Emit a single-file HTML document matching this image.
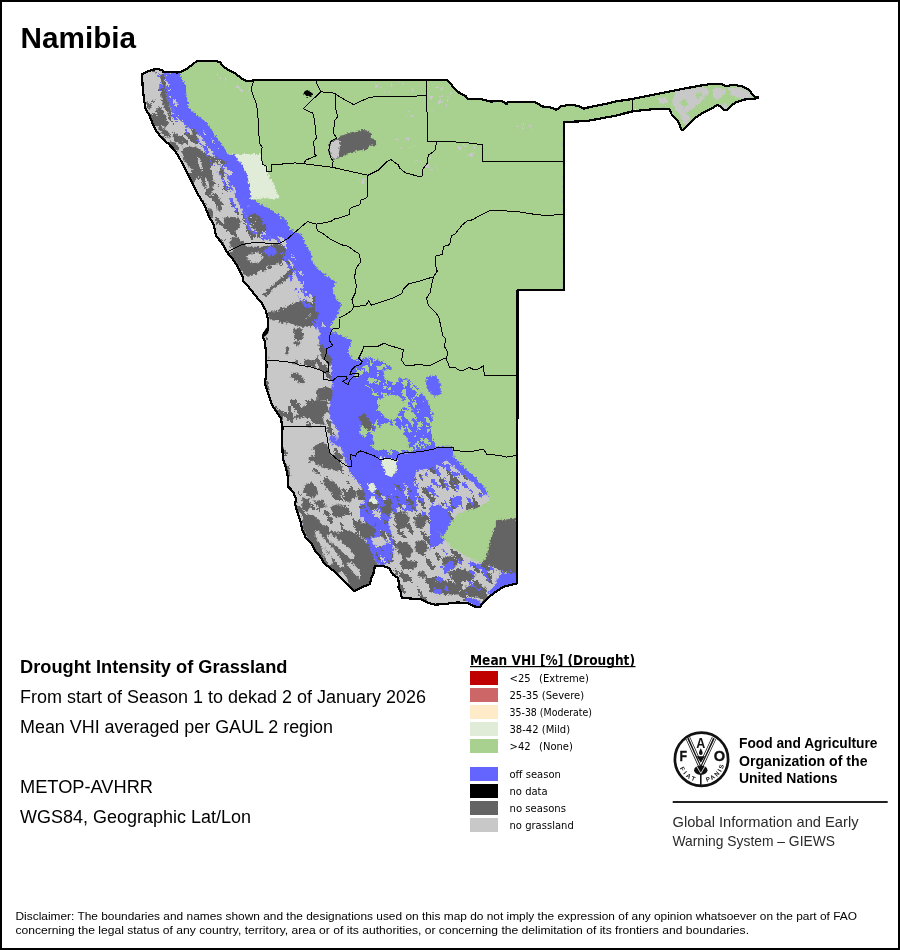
<!DOCTYPE html>
<html><head><meta charset="utf-8"><title>Namibia</title>
<style>
html,body{margin:0;padding:0;background:#fff}
svg{display:block}
.t{font-family:"Liberation Sans",Arial,sans-serif;fill:#000}
.lg{font-family:"DejaVu Sans",sans-serif;font-size:10px;fill:#000}
</style></head><body>
<svg width="900" height="950" viewBox="0 0 900 950">
<rect x="1" y="1" width="898" height="948" fill="#fff" stroke="#000" stroke-width="2"/>
<text class="t" x="20.6" y="47.6" font-size="29.7" font-weight="bold">Namibia</text>
<!-- MAP -->
<!--MAPSTART--><g id="map">
<defs><filter id="speck1" x="0" y="0" width="1" height="1" color-interpolation-filters="sRGB"><feTurbulence type="fractalNoise" baseFrequency="0.16 0.06" numOctaves="3" seed="11"/><feColorMatrix type="matrix" values="0 0 0 0 0.392 0 0 0 0 0.392 0 0 0 0 0.392 -1 0 0 0 0.9"/><feComponentTransfer><feFuncA type="discrete" tableValues="0 1"/></feComponentTransfer></filter><filter id="speckB" x="0" y="0" width="1" height="1" color-interpolation-filters="sRGB"><feTurbulence type="fractalNoise" baseFrequency="0.2 0.08" numOctaves="3" seed="5"/><feColorMatrix type="matrix" values="0 0 0 0 0.392 0 0 0 0 0.392 0 0 0 0 1.000 -1 0 0 0 0.93"/><feComponentTransfer><feFuncA type="discrete" tableValues="0 1"/></feComponentTransfer></filter><filter id="speckB2" x="0" y="0" width="1" height="1" color-interpolation-filters="sRGB"><feTurbulence type="fractalNoise" baseFrequency="0.2 0.08" numOctaves="3" seed="8"/><feColorMatrix type="matrix" values="0 0 0 0 0.392 0 0 0 0 0.392 0 0 0 0 1.000 -1 0 0 0 0.88"/><feComponentTransfer><feFuncA type="discrete" tableValues="0 1"/></feComponentTransfer></filter><filter id="speckD2" x="0" y="0" width="1" height="1" color-interpolation-filters="sRGB"><feTurbulence type="fractalNoise" baseFrequency="0.18 0.07" numOctaves="3" seed="3"/><feColorMatrix type="matrix" values="0 0 0 0 0.392 0 0 0 0 0.392 0 0 0 0 0.392 -1 0 0 0 0.9"/><feComponentTransfer><feFuncA type="discrete" tableValues="0 1"/></feComponentTransfer></filter><filter id="speckL" x="0" y="0" width="1" height="1" color-interpolation-filters="sRGB"><feTurbulence type="fractalNoise" baseFrequency="0.2 0.08" numOctaves="3" seed="21"/><feColorMatrix type="matrix" values="0 0 0 0 0.784 0 0 0 0 0.784 0 0 0 0 0.784 -1 0 0 0 0.88"/><feComponentTransfer><feFuncA type="discrete" tableValues="0 1"/></feComponentTransfer></filter><filter id="speckL2" x="0" y="0" width="1" height="1" color-interpolation-filters="sRGB"><feTurbulence type="fractalNoise" baseFrequency="0.3 0.2" numOctaves="3" seed="51"/><feColorMatrix type="matrix" values="0 0 0 0 0.784 0 0 0 0 0.784 0 0 0 0 0.784 -1 0 0 0 0.86"/><feComponentTransfer><feFuncA type="discrete" tableValues="0 1"/></feComponentTransfer></filter><filter id="speckG" x="0" y="0" width="1" height="1" color-interpolation-filters="sRGB"><feTurbulence type="fractalNoise" baseFrequency="0.25 0.14" numOctaves="3" seed="44"/><feColorMatrix type="matrix" values="0 0 0 0 0.659 0 0 0 0 0.816 0 0 0 0 0.557 -1 0 0 0 0.93"/><feComponentTransfer><feFuncA type="discrete" tableValues="0 1"/></feComponentTransfer></filter><filter id="speckD3" x="0" y="0" width="1" height="1" color-interpolation-filters="sRGB"><feTurbulence type="fractalNoise" baseFrequency="0.2 0.08" numOctaves="3" seed="33"/><feColorMatrix type="matrix" values="0 0 0 0 0.392 0 0 0 0 0.392 0 0 0 0 0.392 -1 0 0 0 0.86"/><feComponentTransfer><feFuncA type="discrete" tableValues="0 1"/></feComponentTransfer></filter></defs>
<defs><filter id="rough" x="-2%" y="-2%" width="104%" height="104%" color-interpolation-filters="sRGB"><feTurbulence type="fractalNoise" baseFrequency="0.45" numOctaves="2" seed="4" result="t"/><feDisplacementMap in="SourceGraphic" in2="t" scale="5" xChannelSelector="R" yChannelSelector="G"/></filter></defs>
<clipPath id="cty"><polygon points="142.1,74 145.7,72.2 152.8,69.6 158.1,69 162.6,70.4 163.4,72.2 172.3,71.9 177.7,72.6 182.1,71.3 188.3,67.8 193.7,63.3 198.1,60.7 206.1,60.7 215,60.7 220.3,62.4 223,66 227.4,69.6 234.6,73.1 241.7,78.4 246.1,81.1 251.4,81.1 254.1,79.7 447,79.7 451.4,84.7 455,89.1 460.3,93.6 465.7,96.2 468.3,99.2 479.9,98.9 490.6,101.6 501.2,100.7 506.6,103.9 508.3,101.6 522.6,102.4 526.1,101.6 533.2,101.6 538.6,104.2 542.1,106.4 552.8,107.8 556.3,109.9 561.7,106 572.3,104.6 579.4,106.4 583.9,108.7 590.1,106.9 606.1,103.9 615,101.6 632.8,98.9 650.6,95.3 668.3,91.8 686.1,88.2 703.9,85 712.8,83.8 721.7,84.3 727,86.4 732.3,84.7 741.2,86.1 748.3,89.1 751.9,93.6 753.7,96.2 758.1,97.5 755.4,98.5 750.1,98.9 743,99.8 735.9,102.4 730.6,106 727,110.4 723.4,109.6 719.9,106 717.2,105.1 712.8,107.8 703.9,112.2 696.8,116.7 689.7,122.9 684.3,129.1 681.7,130 679.9,125.6 677.2,120.2 671.9,114.9 669.2,108.7 657.7,108.7 632.8,111.3 615,115.8 586.6,121.1 563.8,122 563.8,290 517.6,290 517.2,583.3 510.1,585.1 503,586.9 497.7,590.4 490.6,595.8 485.2,601.1 483.4,602.9 481.7,604.7 479.9,607.3 474.6,606.4 467.4,602.9 456.8,602.5 446.1,603.8 435.4,604.7 428.3,602.9 421.2,599.3 408.8,598.4 401.7,597.6 400.8,592.2 398.1,586.9 399,585.1 398.1,578 392.8,574.4 389.2,568.2 382.1,565.6 375,565.6 373.4,573.6 371.7,577.1 369.9,584.2 364.6,586 357.4,589.6 353.9,591.3 346.8,584.2 339.7,577.1 332.6,570 323.7,562.9 321.9,559.3 318.3,554 314.8,550.4 311.2,543.3 305.9,538 302.1,529.1 300.3,520.2 297.7,513.1 295,504.2 295.9,498.9 293.2,491.8 287.9,486.4 287.9,477.6 286.1,468.7 283.4,459.8 282.6,452.7 281.7,436.7 282.6,427.8 280.8,418 277.2,412.7 271.9,404.7 268.3,394 264.8,383.3 265.7,378 266.6,365.6 265.7,358.4 265.7,349.6 264.8,340.7 263,337.1 264.8,331.8 268.3,330 268.3,321.1 265.7,310.4 262.1,303.3 255.9,296.2 248.8,287.3 242.6,280.2 242.6,276.7 239.9,271.3 236.3,264.2 231.9,258 227.4,252.7 223.9,246.4 220.3,241.1 215.9,235.8 215,230.4 213.2,223.3 209.7,218 206.1,209.1 202.6,202 197.2,193.1 191.9,182.4 186.6,171.8 182.1,162.9 177.7,154.9 173.2,148.7 167.9,143.3 161.7,138 156.3,130.9 152.8,123.8 149.2,114.9 145.7,109.6 143.9,98.9 142.5,84.7"/></clipPath><g clip-path="url(#cty)"><g filter="url(#rough)">
<polygon points="142.1,74 145.7,72.2 152.8,69.6 158.1,69 162.6,70.4 163.4,72.2 172.3,71.9 177.7,72.6 182.1,71.3 188.3,67.8 193.7,63.3 198.1,60.7 206.1,60.7 215,60.7 220.3,62.4 223,66 227.4,69.6 234.6,73.1 241.7,78.4 246.1,81.1 251.4,81.1 254.1,79.7 447,79.7 451.4,84.7 455,89.1 460.3,93.6 465.7,96.2 468.3,99.2 479.9,98.9 490.6,101.6 501.2,100.7 506.6,103.9 508.3,101.6 522.6,102.4 526.1,101.6 533.2,101.6 538.6,104.2 542.1,106.4 552.8,107.8 556.3,109.9 561.7,106 572.3,104.6 579.4,106.4 583.9,108.7 590.1,106.9 606.1,103.9 615,101.6 632.8,98.9 650.6,95.3 668.3,91.8 686.1,88.2 703.9,85 712.8,83.8 721.7,84.3 727,86.4 732.3,84.7 741.2,86.1 748.3,89.1 751.9,93.6 753.7,96.2 758.1,97.5 755.4,98.5 750.1,98.9 743,99.8 735.9,102.4 730.6,106 727,110.4 723.4,109.6 719.9,106 717.2,105.1 712.8,107.8 703.9,112.2 696.8,116.7 689.7,122.9 684.3,129.1 681.7,130 679.9,125.6 677.2,120.2 671.9,114.9 669.2,108.7 657.7,108.7 632.8,111.3 615,115.8 586.6,121.1 563.8,122 563.8,290 517.6,290 517.2,583.3 510.1,585.1 503,586.9 497.7,590.4 490.6,595.8 485.2,601.1 483.4,602.9 481.7,604.7 479.9,607.3 474.6,606.4 467.4,602.9 456.8,602.5 446.1,603.8 435.4,604.7 428.3,602.9 421.2,599.3 408.8,598.4 401.7,597.6 400.8,592.2 398.1,586.9 399,585.1 398.1,578 392.8,574.4 389.2,568.2 382.1,565.6 375,565.6 373.4,573.6 371.7,577.1 369.9,584.2 364.6,586 357.4,589.6 353.9,591.3 346.8,584.2 339.7,577.1 332.6,570 323.7,562.9 321.9,559.3 318.3,554 314.8,550.4 311.2,543.3 305.9,538 302.1,529.1 300.3,520.2 297.7,513.1 295,504.2 295.9,498.9 293.2,491.8 287.9,486.4 287.9,477.6 286.1,468.7 283.4,459.8 282.6,452.7 281.7,436.7 282.6,427.8 280.8,418 277.2,412.7 271.9,404.7 268.3,394 264.8,383.3 265.7,378 266.6,365.6 265.7,358.4 265.7,349.6 264.8,340.7 263,337.1 264.8,331.8 268.3,330 268.3,321.1 265.7,310.4 262.1,303.3 255.9,296.2 248.8,287.3 242.6,280.2 242.6,276.7 239.9,271.3 236.3,264.2 231.9,258 227.4,252.7 223.9,246.4 220.3,241.1 215.9,235.8 215,230.4 213.2,223.3 209.7,218 206.1,209.1 202.6,202 197.2,193.1 191.9,182.4 186.6,171.8 182.1,162.9 177.7,154.9 173.2,148.7 167.9,143.3 161.7,138 156.3,130.9 152.8,123.8 149.2,114.9 145.7,109.6 143.9,98.9 142.5,84.7" fill="#6464ff" />
<polygon points="517.2,583.3 510.1,585.1 503,586.9 497.7,590.4 490.6,595.8 485.2,601.1 483.4,602.9 481.7,604.7 479.9,607.3 474.6,606.4 467.4,602.9 456.8,602.5 446.1,603.8 435.4,604.7 428.3,602.9 421.2,599.3 408.8,598.4 401.7,597.6 400.8,592.2 398.1,586.9 399,585.1 398.1,578 392.8,574.4 389.2,568.2 382.1,565.6 375,565.6 373.4,573.6 371.7,577.1 369.9,584.2 364.6,586 357.4,589.6 353.9,591.3 346.8,584.2 339.7,577.1 332.6,570 323.7,562.9 321.9,559.3 318.3,554 314.8,550.4 311.2,543.3 305.9,538 302.1,529.1 300.3,520.2 297.7,513.1 295,504.2 295.9,498.9 293.2,491.8 287.9,486.4 287.9,477.6 286.1,468.7 283.4,459.8 282.6,452.7 281.7,436.7 282.6,427.8 280.8,418 277.2,412.7 271.9,404.7 268.3,394 264.8,383.3 265.7,378 266.6,365.6 265.7,358.4 265.7,349.6 264.8,340.7 263,337.1 264.8,331.8 268.3,330 268.3,321.1 265.7,310.4 262.1,303.3 255.9,296.2 248.8,287.3 242.6,280.2 242.6,276.7 239.9,271.3 236.3,264.2 231.9,258 227.4,252.7 223.9,246.4 220.3,241.1 215.9,235.8 215,230.4 213.2,223.3 209.7,218 206.1,209.1 202.6,202 197.2,193.1 191.9,182.4 186.6,171.8 182.1,162.9 177.7,154.9 173.2,148.7 167.9,143.3 161.7,138 156.3,130.9 152.8,123.8 149.2,114.9 145.7,109.6 143.9,98.9 142.5,84.7 142.1,74 145.7,72.2 152.8,69.6 158.1,69 162.6,70.4 163.4,72.2 163.9,73.5 165,81 166,92 168,101 173,110 177,117 183,123 188,128 195,132 201,137 206,143 211,150 215,158 220,166 226,174 230,183 234,192 237,200 240,206 244,213 248,220 255,228 262,234 270,238 278,240 282,245 282,251 286,258 293,262 295,273 297,282 302,290 307,300 317,311 318,328 320,333 318,342 320,350 326,356 330,362 331.7,369 331.7,378 332.8,389 330.6,399.3 328.3,411.1 331.7,422.2 338.3,431.1 337.2,440 333,444 440,455 517.2,520" fill="#c8c8c8" />
<clipPath id="cg"><polygon points="517.2,583.3 510.1,585.1 503,586.9 497.7,590.4 490.6,595.8 485.2,601.1 483.4,602.9 481.7,604.7 479.9,607.3 474.6,606.4 467.4,602.9 456.8,602.5 446.1,603.8 435.4,604.7 428.3,602.9 421.2,599.3 408.8,598.4 401.7,597.6 400.8,592.2 398.1,586.9 399,585.1 398.1,578 392.8,574.4 389.2,568.2 382.1,565.6 375,565.6 373.4,573.6 371.7,577.1 369.9,584.2 364.6,586 357.4,589.6 353.9,591.3 346.8,584.2 339.7,577.1 332.6,570 323.7,562.9 321.9,559.3 318.3,554 314.8,550.4 311.2,543.3 305.9,538 302.1,529.1 300.3,520.2 297.7,513.1 295,504.2 295.9,498.9 293.2,491.8 287.9,486.4 287.9,477.6 286.1,468.7 283.4,459.8 282.6,452.7 281.7,436.7 282.6,427.8 280.8,418 277.2,412.7 271.9,404.7 268.3,394 264.8,383.3 265.7,378 266.6,365.6 265.7,358.4 265.7,349.6 264.8,340.7 263,337.1 264.8,331.8 268.3,330 268.3,321.1 265.7,310.4 262.1,303.3 255.9,296.2 248.8,287.3 242.6,280.2 242.6,276.7 239.9,271.3 236.3,264.2 231.9,258 227.4,252.7 223.9,246.4 220.3,241.1 215.9,235.8 215,230.4 213.2,223.3 209.7,218 206.1,209.1 202.6,202 197.2,193.1 191.9,182.4 186.6,171.8 182.1,162.9 177.7,154.9 173.2,148.7 167.9,143.3 161.7,138 156.3,130.9 152.8,123.8 149.2,114.9 145.7,109.6 143.9,98.9 142.5,84.7 142.1,74 145.7,72.2 152.8,69.6 158.1,69 162.6,70.4 163.4,72.2 163.9,73.5 165,81 166,92 168,101 173,110 177,117 183,123 188,128 195,132 201,137 206,143 211,150 215,158 220,166 226,174 230,183 234,192 237,200 240,206 244,213 248,220 255,228 262,234 270,238 278,240 282,245 282,251 286,258 293,262 295,273 297,282 302,290 307,300 317,311 318,328 320,333 318,342 320,350 326,356 330,362 331.7,369 331.7,378 332.8,389 330.6,399.3 328.3,411.1 331.7,422.2 338.3,431.1 337.2,440 333,444 440,455 517.2,520"/></clipPath>
<g clip-path="url(#cg)"><g transform="rotate(-35 330 330)"><rect x="-100" y="-100" width="900" height="900" filter="url(#speck1)"/></g></g>
<polygon points="333,444 340.6,446.7 342.8,453.3 346.1,462.2 349.4,471.1 353.9,477.8 359.4,484.4 362.8,491.1 365,500 360,505 360,515 362,525 365,535 366,545 367,555 370,562 375,564.4 385,564.4 393,562 393.3,545 392,535 388,522 392,515 397.8,511 417.8,511 416,505 416,495 414,485 416,471 430,468 440,465 453,456 460,440 440,420 400,420" fill="#6464ff" />
<clipPath id="zs"><polygon points="345,480 365,500 360,505 360,515 362,525 365,535 366,545 367,555 370,562 375,564.4 385,564.4 393,562 393.3,545 392,535 388,522 392,515 397.8,511 417.8,511 416,505 416,495 400,480 380,490"/></clipPath>
<g clip-path="url(#zs)"><g transform="rotate(-35 330 330)"><rect x="-100" y="-100" width="900" height="900" filter="url(#speckL)"/></g></g>
<g clip-path="url(#zs)"><g transform="rotate(-35 330 330)"><rect x="-100" y="-100" width="900" height="900" filter="url(#speckD3)"/></g></g>
<polygon points="430,505.8 439.3,504.6 447.4,511.6 453.1,523.1 447.4,534.7 441.6,544 430,548.6" fill="#6464ff" />
<polygon points="177.7,72.6 182.1,71.3 188.3,67.8 193.7,63.3 198.1,60.7 206.1,60.7 215,60.7 220.3,62.4 223,66 227.4,69.6 234.6,73.1 241.7,78.4 246.1,81.1 251.4,81.1 254.1,79.7 447,79.7 451.4,84.7 455,89.1 460.3,93.6 465.7,96.2 468.3,99.2 479.9,98.9 490.6,101.6 501.2,100.7 506.6,103.9 508.3,101.6 522.6,102.4 526.1,101.6 533.2,101.6 538.6,104.2 542.1,106.4 552.8,107.8 556.3,109.9 561.7,106 572.3,104.6 579.4,106.4 583.9,108.7 590.1,106.9 606.1,103.9 615,101.6 632.8,98.9 650.6,95.3 668.3,91.8 686.1,88.2 703.9,85 712.8,83.8 721.7,84.3 727,86.4 732.3,84.7 741.2,86.1 748.3,89.1 751.9,93.6 753.7,96.2 758.1,97.5 755.4,98.5 750.1,98.9 743,99.8 735.9,102.4 730.6,106 727,110.4 723.4,109.6 719.9,106 717.2,105.1 712.8,107.8 703.9,112.2 696.8,116.7 689.7,122.9 684.3,129.1 681.7,130 679.9,125.6 677.2,120.2 671.9,114.9 669.2,108.7 657.7,108.7 632.8,111.3 615,115.8 586.6,121.1 563.8,122 563.8,290 517.6,290 517.2,520 498,521 499.4,530 497.7,537.1 494.1,547.8 488.8,556.7 481.7,562 474.6,560.2 460.3,553.1 451.4,547.8 437.2,530 442.6,538 449.7,523.8 458.6,513.1 471,509.6 481.7,506 490.6,498.9 485.2,488.2 474.6,477.6 460.3,463.3 453.2,456.2 453.3,453.3 453.3,446.7 436,446.7 433.3,440 430.7,426.7 433.3,413.3 426.7,400 420,390.7 409.3,380 396,377.3 390.7,366.7 380,360 366.7,357.3 353.3,360 348,353.3 352,340 348.3,338.9 341.2,335.3 332.3,331.8 330.6,324.7 335.9,317.6 339.4,310.4 341.2,305.1 335.9,298 332.3,289.1 335.9,282 330.6,278.4 318.1,269.6 312.8,262.4 311,253.6 305.7,244.7 302.1,234.9 295,232 295,232.2 289.7,228.7 284.3,218 282.6,218 280.8,216.2 270.1,209.1 259.4,203.8 250.6,198.4 248.8,182.4 247,173.6 241.7,164.7 234.6,154.9 227.4,154 223.9,146.9 218.6,139.8 213.2,132.7 209.7,127.3 206.1,122 199,116.7 193.7,113.1 188.3,106 186.9,97.1 185.1,84.7 180.3,74" fill="#a8d08e" />
<polygon points="229.2,154 260.3,154 261.2,157.6 263,164.7 266.6,166.4 267.4,172.7 272.8,182.4 277.2,193.1 279.4,198.4 250.6,198.4 248.8,182.4 247,173.6 241.7,164.7 234.6,154.9" fill="#e1ecd8" />
<polygon points="142.8,73.3 160,72.2 160.3,83.3 157.2,98.9 151.7,101.1 145.6,103.3 143.3,92.2" fill="#c8c8c8" />
<polygon points="243.9,277.8 257.2,274.4 265,271.1 277.2,266.7 286.1,264.4 292.8,267.8 292.8,273.3 302.8,284.4 302.8,293.3 292.8,302.2 281.7,306.7 270.6,311.1 265,311.1 259.4,302.2 251.7,290" fill="#c8c8c8" />
<polygon points="268.3,324.4 277.2,322.2 292.8,324.4 292.8,328.9 295,340 270.6,340 267.2,328.9" fill="#c8c8c8" />
<polygon points="268.3,327.8 317.2,327.8 319.4,342.2 317.2,357.8 305,360 288.3,361.1 268.3,360" fill="#c8c8c8" />
<polygon points="268.3,362.2 310.6,365.6 321.7,371.1 326.1,386.7 317.2,388.9 310.6,400 269.4,400" fill="#c8c8c8" />
<polygon points="285,426.7 325,427.8 327.2,437.8 315,444.4 309.4,455.6 307.2,466.7 315,472.2 322.8,475.6 320.6,483.3 298.3,488.9 290.6,477.8 287.2,455.6 283.9,433.3" fill="#c8c8c8" />
<polygon points="160.6,74.4 163.9,74.4 165,81.1 166.1,92.2 168.3,101.1 170.6,110 171.7,117.8 169.4,118.9 167.2,112.2 163.9,106.7 161.7,98.9 160.6,90 161.7,83.3 160,76.7" fill="#646464" />
<polygon points="146.1,101.1 150.6,103.3 151.7,107.8 148.3,108.9 146.1,105.6" fill="#646464" />
<polygon points="156.1,107.8 160.6,106.7 163.9,112.2 166.1,117.8 168.3,123.3 166.1,127.8 162.8,125.6 159.4,118.9 157.2,113.3" fill="#646464" />
<polygon points="148.3,112.2 152.8,114.4 157.2,120 157.2,125.6 153.9,127.8 150.6,122.2 148.3,116.7" fill="#646464" />
<polygon points="172.8,132.2 177.2,134.4 181.7,138.9 183.9,143.3 181.7,145.6 177.2,142.2 173.9,137.8" fill="#646464" />
<polygon points="157.2,126.7 163.9,127.8 168.3,132.2 170.6,136.7 167.2,137.8 161.7,133.3" fill="#646464" />
<polygon points="191.7,127.8 195,130 197.2,136.7 198.3,143.3 195,143.3 192.8,136.7" fill="#646464" />
<polygon points="182.8,147.8 190.6,146.7 197.2,147.8 203.9,152.2 210.6,156.7 215,161.1 212.8,165.6 206.1,167.8 199.4,170 192.8,170 187.2,165.6 183.9,158.9 181.7,152.2" fill="#646464" />
<polygon points="169.4,141.1 176.1,143.3 179.4,147.8 177.2,151.1 171.7,147.8" fill="#646464" />
<polygon points="191.7,150 199.4,150 202.8,156.7 207.2,163.3 211.7,172.2 213.9,183.3 212.8,192.2 209.4,196.7 206.1,191.1 202.8,185.6 200.6,177.8 197.2,172.2 193.9,164.4 191.7,156.7" fill="#646464" />
<polygon points="211.7,156.7 218.3,157.8 223.9,161.1 227.2,162.2 222.8,165.6 217.2,164.4 212.8,162.2" fill="#646464" />
<polygon points="222.8,217.8 231.7,216.7 238.3,217.8 240.6,221.1 239.4,227.8 235,232.2 231.7,234.4 228.3,231.1 225,225.6" fill="#646464" />
<polygon points="247.2,216.7 253.9,213.3 260.6,216.7 262.8,223.3 267.2,226.7 265,233.3 258.3,232.2 251.7,227.8 248.3,222.2" fill="#646464" />
<polygon points="231.7,236.7 238.3,237.8 245,243.3 247.2,250 233.9,250 229.4,244.4" fill="#646464" />
<polygon points="216.1,196.7 219.4,197.8 221.7,205.6 220.6,212.2 217.8,210 216.7,203.3" fill="#646464" />
<polygon points="207.2,207.8 211.7,208.9 213.9,216.7 211.7,218.9 208.9,214.4" fill="#646464" />
<polygon points="198.3,156.7 200.6,161.1 202.8,167.8 201.7,171.1 199.4,166.7 197.8,161.1" fill="#c8c8c8" />
<polygon points="205,176.7 208.3,181.1 209.4,187.8 207.2,188.9 205,183.3" fill="#c8c8c8" />
<polygon points="229.4,252.2 237.2,248.9 248.3,246.7 261.7,246.7 270.6,244.4 281.7,243.3 286.1,251.1 283.9,260 277.2,264.4 268.3,265.6 261.7,268.9 257.2,273.3 248.3,276.7 243.9,275.6 240.6,268.9 235,262.2 230.6,256.7" fill="#646464" />
<polygon points="262.8,294.4 268.3,288.9 276.1,282.2 283.9,275.6 290.6,268.9 295,267.8 292.8,273.3 286.1,280 279.4,284.4 272.8,290 266.1,296.7" fill="#646464" />
<polygon points="267.2,312.2 277.2,311.1 286.1,308.9 295,306.7 303.9,302.2 309.4,297.8 315,295.6 315,308.9 309.4,315.6 303.9,320 297.2,324.4 290.6,322.2 283.9,320 277.2,321.1 270.6,320" fill="#646464" />
<polygon points="292.8,328.9 299.4,327.8 303.9,334.4 301.7,340 295,340" fill="#646464" />
<polygon points="248.3,254.4 257.2,252.2 263.9,256.7 259.4,262.2 251.7,263.3 247.2,258.9" fill="#c8c8c8" />
<polygon points="263.9,248.9 270.6,246.7 277.2,248.9 276.1,254.4 268.3,255.6 263.9,253.3" fill="#6464ff" />
<polygon points="277.2,311.1 286.1,306.7 297.2,302.2 303.9,300 306.1,304.4 301.7,308.9 293.9,312.2 288.3,315.6 297.2,320 306.1,318.9 315,311.1 319.4,313.3 317.2,322.2 310.6,326.7 301.7,326.7 292.8,324.4 285,321.1 277.2,317.8" fill="#646464" />
<polygon points="297.2,331.1 301.7,328.9 302.8,333.3 299.4,336.7" fill="#646464" />
<polygon points="292.8,342.2 299.4,341.1 301.7,343.3 297.2,345.6" fill="#646464" />
<polygon points="285,348.9 289.4,346.7 288.3,353.3 286.1,355.6" fill="#646464" />
<polygon points="318.3,344.4 322.8,345.6 326.1,352.2 332.8,360 330.6,363.3 323.9,361.1 320.6,355.6" fill="#646464" />
<polygon points="303.9,362.2 310.6,360 317.2,361.1 315,366.7 307.2,366.7" fill="#646464" />
<polygon points="291.7,373.3 296.1,372.2 301.7,376.7 306.1,382.2 301.7,383.3 295,380 290.6,377.8" fill="#646464" />
<polygon points="317.2,388.9 326.1,386.7 332.8,388.9 331.7,400 317.2,400" fill="#646464" />
<polygon points="291.7,417.8 298.3,413.3 302.8,406.7 309.4,402.2 318.3,400 328.3,401.1 327.2,411.1 322.8,417.8 325,424.4 318.3,424.4 311.7,418.9 302.8,416.7 297.2,418.9" fill="#646464" />
<polygon points="313.9,446.7 320.6,442.2 327.2,444.4 329.4,451.1 333.9,457.8 340.6,462.2 342.8,468.9 336.1,471.1 329.4,468.9 322.8,466.7 316.1,464.4 312.8,460 309.4,462.2 308.3,457.8 313.9,455.6 315,451.1" fill="#646464" />
<polygon points="305,484.4 311.7,482.2 316.1,486.7 318.3,493.3 313.9,497.8 306.1,495.6 302.8,491.1" fill="#646464" />
<polygon points="322.8,480 327.2,477.8 333.9,482.2 340.6,488.9 342.8,495.6 337.2,497.8 331.7,493.3 325,486.7" fill="#646464" />
<polygon points="356.1,491.1 362.8,488.9 365,494.4 365,500 358.3,500" fill="#646464" />
<polygon points="329.4,436.7 336.1,435.6 337.2,443.3 331.7,444.4" fill="#6464ff" />
<polygon points="302.2,517.2 308.9,513.9 315.6,517.2 324.4,526.1 331.1,531.7 337.8,532.8 346.7,530.6 355.6,532.8 363.3,539.4 368.9,545 371.1,552.8 375.6,561.7 376.7,567.2 371.1,572.8 368.9,579.4 366.7,586.1 357.8,590.6 352.2,590.6 342.2,581.7 331.1,571.7 322.2,563.9 316.7,555 311.1,545 305.6,536.1 302.2,527.2" fill="#646464" />
<polygon points="314.4,530.6 318.9,531.7 326.7,541.7 333.3,548.3 337.8,555 342.2,561.7 344.4,566.1 340,567.2 334.4,560.6 328.9,552.8 322.2,546.1 316.7,539.4" fill="#c8c8c8" />
<polygon points="326.7,535 331.1,533.9 342.2,542.8 351.1,550.6 355.6,557.2 351.1,559.4 344.4,553.9 335.6,546.1 328.9,540.6" fill="#c8c8c8" />
<polygon points="320,543.9 322.2,545 331.1,557.2 333.3,563.9 328.9,566.1 324.4,557.2" fill="#c8c8c8" />
<polygon points="346.7,563.9 351.1,561.7 360,570.6 364.4,577.2 360,579.4 353.3,572.8" fill="#c8c8c8" />
<polygon points="337.8,572.8 342.2,571.7 346.7,577.2 348.9,583.9 344.4,585 340,579.4" fill="#c8c8c8" />
<polygon points="302.2,497.2 308.9,498.3 311.1,506.1 306.7,511.7 302.2,508.3" fill="#646464" />
<polygon points="313.3,501.7 322.2,499.4 326.7,506.1 320,508.3" fill="#646464" />
<polygon points="331.1,506.1 340,503.9 346.7,510.6 342.2,517.2 333.3,517.2" fill="#646464" />
<polygon points="342.2,495 353.3,495 351.1,501.7 344.4,501.7" fill="#646464" />
<polygon points="329.7,141.6 337.7,138 344.8,134.4 351.9,131.8 356.3,130.9 362.6,130 367.9,130.5 371.4,133.6 370.6,138 374.1,138.9 376.8,145.1 369.7,146 367,149.6 359,150.4 351.9,152.2 346.6,154.9 339.4,157.6 334.1,160.2 330.6,156.7 328.8,149.6" fill="#646464" />
<polygon points="330.2,143.3 336.8,139.4 340.3,141.6 339.4,150.4 337.7,157.6 334.5,159.7 331.3,156.1 329.7,149.6" fill="#c8c8c8" />
<polygon points="303,91.8 307.4,90 310.1,91.8 312.8,92.7 311.9,95.3 308.3,97.1 305.7,96.2 303.9,94.4" fill="#000" />
<polygon points="674.7,91 693.3,88.3 706.7,87.7 709.3,92.3 704,99 698.7,104.3 693.3,108.3 686.7,112.3 680,113.7 674.7,109.7 672,101.7" fill="#c8c8c8" />
<polygon points="712,88.3 720,87 725.3,89.7 722.7,96.3 717.3,100.3 713.3,97.7" fill="#c8c8c8" />
<polygon points="728,88.3 738.7,87 746.7,89.7 752,95 750.7,98.3 742.7,99 736,97.7 730.7,93.7" fill="#c8c8c8" />
<polygon points="680,113.7 685.3,112.3 690.7,117.7 686.7,125.7 682.7,123" fill="#c8c8c8" />
<polygon points="720,104.3 725.3,103.7 728,108.3 724,110.3" fill="#c8c8c8" />
<polygon points="657.3,98.3 664,97 668.7,99.7 666,103.3 659.3,103.3" fill="#c8c8c8" />
<polygon points="680,101.7 685.3,99 689.3,104.3 684,108.3" fill="#a8d08e" />
<polygon points="696,93.7 701.3,92.3 702.7,96.3 697.3,98.3" fill="#a8d08e" />
<polygon points="383.3,370 390,368.7 399.3,374 399.3,380.7 391.3,382 384.7,378" fill="#a8d08e" />
<polygon points="380.7,399.3 390,394 400.7,396.7 404.7,404.7 399.3,412.7 392.7,420.7 383.3,416.7 378,408.7" fill="#a8d08e" />
<polygon points="375.3,428.7 386,423.3 396.7,426 404.7,434 410,443.3 407.3,450 374,450 372.7,439.3" fill="#a8d08e" />
<polygon points="360.7,426 367.3,423.3 370,431.3 364.7,436.7 359.3,434" fill="#a8d08e" />
<polygon points="404.7,410 411.3,408.7 415.3,415.3 410,420.7 404.7,418" fill="#a8d08e" />
<polygon points="427.3,376.7 435.3,375.3 440.7,383.3 440.7,394 435.3,396.7 428.7,391.3 426,383.3" fill="#6464ff" />
<polygon points="358,416.7 364.7,414 370,420.7 374,428.7 368.7,431.3 363.3,426" fill="#646464" />
<polygon points="366.7,502.2 375.6,501.1 378.9,506.7 373.3,510 367.8,507.8" fill="#646464" />
<polygon points="382.2,506.7 388.9,504.4 393.3,508.9 388.9,515.6 383.3,513.3" fill="#646464" />
<polygon points="360,522.2 371.1,524.4 376.7,531.1 373.3,536.7 366.7,538.9 360,536.7" fill="#646464" />
<polygon points="371.1,537.8 382.2,536.7 387.8,542.2 382.2,546.7 373.3,544.4" fill="#c8c8c8" />
<polygon points="380,457.3 389.3,458.7 397.3,460 396.7,470.7 392,477.3 386.7,476 382.7,466.7" fill="#e1ecd8" />
<polygon points="368,484 373.3,482.7 377.3,489.3 373.3,492 369.3,490.7" fill="#e1ecd8" />
<polygon points="369.3,498.7 374.7,497.3 378.7,502.7 376,504 370.7,502.7" fill="#e1ecd8" />
<polygon points="494.8,526.6 504.1,523.1 511,526.6 518,528.9 518,574.1 511,574.1 504.1,571.8 497.1,569.4 487.9,564.8 484.4,560.2 487.9,552.1 490.2,541.7" fill="#646464" />
<polygon points="495.9,520.2 517.2,518.4 519,538 495.9,538" fill="#646464" />
<polygon points="441.6,557.9 453.1,555.6 458.9,562.5 453.1,569.4 443.9,567.1" fill="#646464" />
<polygon points="447.4,571.8 464.7,569.4 476.3,575.2 470.5,581 453.1,581" fill="#646464" />
<polygon points="430,583.3 441.6,581 453.1,588 447.4,594.9 430,592.6" fill="#646464" />
<polygon points="464.7,586.8 478.6,583.3 487.9,590.3 482.1,598.4 468.2,596.1" fill="#646464" />
<polygon points="478.6,564.8 484.4,562.5 490.2,569.4 485.6,574.1" fill="#646464" />
<polygon points="499.4,574.1 518,572.9 518,583.3 511,585.6 501.8,588 494.8,592.6 490.2,596.1 487.9,592.6 494.8,585.6" fill="#6464ff" />
<polygon points="464.7,597.2 474,598.4 480.9,601.9 483.2,606.5 476.3,607.1 468.2,603" fill="#6464ff" />
<polygon points="393.3,513.3 404.4,511.1 410,517.8 406.7,527.8 400,528.9 395.6,522.2" fill="#646464" />
<polygon points="413.3,516.7 422.2,514.4 426.7,522.2 422.2,528.9 415.6,526.7" fill="#646464" />
<polygon points="395.6,544.4 406.7,542.2 413.3,550 408.9,557.8 400,555.6" fill="#646464" />
<polygon points="415.6,542.2 424.4,540 428.9,548.9 422.2,555.6 415.6,551.1" fill="#646464" />
<polygon points="398.9,562.2 410,560 417.8,564.4 413.3,568.9 402.2,568.9" fill="#646464" />
<polygon points="417.8,572.2 424.4,571.1 425.6,577.8 418.9,577.8" fill="#646464" />
<polygon points="428.9,582.2 444.4,581.1 460,584.4 460,594.4 446.7,594.4 433.3,591.1" fill="#646464" />
<polygon points="360,566.7 371.1,567.8 376.7,577.8 373.3,588.9 360,588.9" fill="#646464" />
<clipPath id="z1"><polygon points="416,470 440,462 470,470 488,492 470,508 440,516 416,515 410,490"/></clipPath>
<clipPath id="z2"><polygon points="440,548 460,560 490,566 517,572 517,582 503,586 490,595 480,600 450,598 430,592 436,570"/></clipPath>
<g clip-path="url(#z1)"><g transform="rotate(-35 330 330)"><rect x="-100" y="-100" width="900" height="900" filter="url(#speckB)"/></g></g>
<g clip-path="url(#z2)"><g transform="rotate(-35 330 330)"><rect x="-100" y="-100" width="900" height="900" filter="url(#speckB2)"/></g></g>
<clipPath id="mz"><polygon points="358.7,346 381.8,343.3 403.1,349.6 399.6,365.6 410.2,376.2 424.4,397.6 431.6,410 435.1,429.6 435.1,445.6 406.7,452.7 380,454.4 371.1,445.6 367.6,429.6 376.4,415.3 374.7,401.1 364,388.7 353.3,374.4"/></clipPath>
<g clip-path="url(#mz)"><g transform="rotate(-35 330 330)"><rect x="-100" y="-100" width="900" height="900" filter="url(#speckG)"/></g></g>
<clipPath id="ze"><polygon points="163.9,73.5 165,81 166,92 168,101 173,110 177,117 183,123 188,128 195,132 201,137 206,143 211,150 215,158 220,166 226,174 230,183 234,192 237,200 240,206 244,213 248,220 255,228 262,234 270,238 278,240 282,245 282,251 286,258 293,262 295,273 297,282 302,290 307,300 317,311 318,328 325,326 324,309 314,298 309,288 304,280 302,271 300,260 293,256 289,249 289,243 285,238 277,236 269,232 262,226 255,218 251,211 247,204 244,198 241,190 237,181 233,172 227,164 222,156 218,148 213,141 208,135 202,130 195,126 190,121 184,115 180,108 175,99 173,90 172,79 170.9,71.5"/></clipPath>
<clipPath id="zw"><polygon points="163.9,73.5 165,81 166,92 168,101 173,110 177,117 183,123 188,128 195,132 201,137 206,143 211,150 215,158 220,166 226,174 230,183 234,192 237,200 240,206 244,213 248,220 255,228 262,234 270,238 278,240 282,245 282,251 286,258 293,262 295,273 297,282 302,290 307,300 317,311 318,328 312,330 311,313 301,302 296,292 291,284 289,275 287,264 280,260 276,253 276,247 272,242 264,240 256,236 249,230 242,222 238,215 234,208 231,202 228,194 224,185 220,176 214,168 209,160 205,152 200,145 195,139 189,134 182,130 177,125 171,119 167,112 162,103 160,94 159,83 157.9,75.5"/></clipPath>
<g clip-path="url(#ze)"><g transform="rotate(-35 330 330)"><rect x="-100" y="-100" width="900" height="900" filter="url(#speckL)"/></g></g>
<g clip-path="url(#zw)"><g transform="rotate(-35 330 330)"><rect x="-100" y="-100" width="900" height="900" filter="url(#speckB)"/></g></g>
<clipPath id="zn"><ellipse cx="225" cy="77" rx="12" ry="5"/><ellipse cx="243" cy="88" rx="10" ry="5"/><ellipse cx="398" cy="86" rx="25" ry="7"/><ellipse cx="412" cy="114" rx="10" ry="4"/><ellipse cx="405" cy="143" rx="11" ry="6"/><ellipse cx="428" cy="163" rx="12" ry="9"/><ellipse cx="528" cy="128" rx="12" ry="6"/><ellipse cx="362" cy="184" rx="8" ry="8"/><ellipse cx="440" cy="100" rx="12" ry="16"/><ellipse cx="470" cy="150" rx="14" ry="6"/></clipPath>
<g clip-path="url(#zn)"><g transform="rotate(-35 330 330)"><rect x="-100" y="-100" width="900" height="900" filter="url(#speckL2)"/></g></g>
</g></g>
<polyline points="254.1,79.7 251.4,88.2 252.3,93.6 255.9,102.4 257.7,111.3 258.6,129.1 259.4,143.3 262.1,146.9 261.2,157.6 263,164.7 266.6,166.4 266.6,171.8 271,171.8 271,164.7 277.2,164.3 286.1,163.8 295,162.9" fill="none" stroke="#000" stroke-width="1.0" stroke-linejoin="round" shape-rendering="crispEdges"/>
<polyline points="315.4,79.7 318.1,86.4 320.8,91.8 335,93.2 335.9,94.4 344.8,99.8 353.7,104.6 369.7,97.1 399.9,96.2 426.6,95.9" fill="none" stroke="#000" stroke-width="1.0" stroke-linejoin="round" shape-rendering="crispEdges"/>
<polyline points="320.8,91.8 303,108.7 312.8,113.1 314.6,120.2 315.4,129.1 316.3,138 313.7,141.6 314.6,154 316.3,155.8 305.7,160.2 303.9,163.8 295,162.9" fill="none" stroke="#000" stroke-width="1.0" stroke-linejoin="round" shape-rendering="crispEdges"/>
<polyline points="303.9,163.8 332.3,167.3 367.9,175.3" fill="none" stroke="#000" stroke-width="1.0" stroke-linejoin="round" shape-rendering="crispEdges"/>
<polyline points="335,93.2 335.9,109.6 337.7,116.7 335,120.2 333.2,132.7 336.8,138 330.6,141.6 328.8,150.4 330.6,157.6 333.2,161.1 332.3,167.3" fill="none" stroke="#000" stroke-width="1.0" stroke-linejoin="round" shape-rendering="crispEdges"/>
<polyline points="367.9,175.3 378.6,170 387.4,161.1 391,159.7 395.4,162.9 398.1,164.7 399.9,168.2 405.2,172.7 417.7,176.2 421.2,177.1 423,174.4 422.1,170 427.4,162.9 428.3,154.9 432.8,152.2 435.4,149.6 436.3,142.4" fill="none" stroke="#000" stroke-width="1.0" stroke-linejoin="round" shape-rendering="crispEdges"/>
<polyline points="426.6,79.7 427.4,141.6 455,141.9 472.8,143.3 482.6,144.8 482.6,161.1 563.8,161.1" fill="none" stroke="#000" stroke-width="1.0" stroke-linejoin="round" shape-rendering="crispEdges"/>
<polyline points="367.9,175.3 367.9,182.4 367,197.6 360.8,200.2 359.9,204.7 350.1,208.2 349.2,214.4 344.8,216.2 339.4,218 335.9,218 330.6,221.6 316.3,224.2 307.4,221.6 295,232.2 287.9,238.4 280.8,242.9 271.9,243.8 255.9,242 241.7,244.7 227.4,251.8" fill="none" stroke="#000" stroke-width="1.0" stroke-linejoin="round" shape-rendering="crispEdges"/>
<polyline points="316.3,224.2 317.2,230.4 323.4,234 330.6,239.3 341.2,244.7 348.3,246.4 355.4,251.8 359,253.6 360.8,261.6 356.3,267.8 354.6,276.7 356.3,285.6 355.4,292.7 351.9,299.8 353.7,306.9 351.9,310.4 346.6,314 339,318 339.1,321.8 339.1,328 332.9,328.9 330.2,333.3 329.3,340.4 332.9,345.8 326.7,348.4 325.8,355.6 324,359.1 328.4,362.7 328.4,371.6 324,372.4 323.1,379.6 332.9,380.4 337.3,376.9 346.2,376 347.1,378.7 342.7,381.3 348,384.9 349.8,380.4 353.3,376.9 358.7,376.9 358.7,373.3 353.3,373.3 349.8,375.1" fill="none" stroke="#000" stroke-width="1.0" stroke-linejoin="round" shape-rendering="crispEdges"/>
<polyline points="353.7,306.9 366.1,305.1 368.8,300.7 371.4,305.1 382.1,301.6 392.8,298 401.7,293.6 403.4,289.1 408.8,283.8 419.4,281.1 433.7,276.7 437.2,271.3 435.4,264.2 435.4,256.2 442.6,254.4 443.4,246.4 449.7,244.7 451.4,235.8 455,234 462.1,225.1 467.4,220.7 472.8,219.8 475.4,218 489.7,210.5 504.8,210.9 519,211.8 535,214.4 549.2,215.9 557.2,214.4 563.8,214.4" fill="none" stroke="#000" stroke-width="1.0" stroke-linejoin="round" shape-rendering="crispEdges"/>
<polyline points="433.7,276.7 431.9,283.8 430.1,292.7 426.6,298 428.3,305.1 435.4,312.2 439,317.6 440.8,326.4 442.6,335.3 446.1,338.9 444.3,346 447.9,353.1 446.1,358.4 449.7,367.3 455,367.3 458.6,370 463.9,370 469.2,367.3 472.8,369.1 478.1,369.1 483.4,365.9 484.3,375.3 517.6,375.3" fill="none" stroke="#000" stroke-width="1.0" stroke-linejoin="round" shape-rendering="crispEdges"/>
<polyline points="362.6,346 378.6,346 383.9,343.3 391,346 403.4,349.6 401.7,360.2 405.2,365.6 419.4,364.7 430.1,365.6 444.3,358.4 447,357.6" fill="none" stroke="#000" stroke-width="1.0" stroke-linejoin="round" shape-rendering="crispEdges"/>
<polyline points="632.4,99.2 632.4,111.3" fill="none" stroke="#000" stroke-width="1.0" stroke-linejoin="round" shape-rendering="crispEdges"/>
<polyline points="364,345.8 362.2,351.1 358.7,358.2 362.2,361.8 360.4,364.4 355.1,366.2 351.6,369.8 349.8,375.1" fill="none" stroke="#000" stroke-width="1.0" stroke-linejoin="round" shape-rendering="crispEdges"/>
<polyline points="266.6,360.2 280.8,361.1 295,362.9 300,365.3 311.6,367.1 324,371.6" fill="none" stroke="#000" stroke-width="1.0" stroke-linejoin="round" shape-rendering="crispEdges"/>
<polyline points="283.4,426.9 325.2,426.9 329.7,452.7 337.7,459.8 346.6,466 351.9,466 350.1,454.4 355.4,456.2 357.2,452.7 360.8,450.9 375,456.2" fill="none" stroke="#000" stroke-width="1.0" stroke-linejoin="round" shape-rendering="crispEdges"/>
<polyline points="375,456.2 380.3,459.8 387.4,458 396.3,460.7 398.1,454.4 405.2,452.7 419.4,451.8 433.7,449.1 437.2,447.3 453.2,447.7 453.2,450.9 472.8,451.2 483.4,449.1 487,454.4 499.4,455.3 506.6,457.1 517.2,455.3" fill="none" stroke="#000" stroke-width="1.0" stroke-linejoin="round" shape-rendering="crispEdges"/>
<polygon points="266.5,327.5 268.6,330 268.2,333 265.4,336 262.6,337.6 262,334.5 264,331.5" fill="#000"/>
<polygon points="142.1,74 145.7,72.2 152.8,69.6 158.1,69 162.6,70.4 163.4,72.2 172.3,71.9 177.7,72.6 182.1,71.3 188.3,67.8 193.7,63.3 198.1,60.7 206.1,60.7 215,60.7 220.3,62.4 223,66 227.4,69.6 234.6,73.1 241.7,78.4 246.1,81.1 251.4,81.1 254.1,79.7 447,79.7 451.4,84.7 455,89.1 460.3,93.6 465.7,96.2 468.3,99.2 479.9,98.9 490.6,101.6 501.2,100.7 506.6,103.9 508.3,101.6 522.6,102.4 526.1,101.6 533.2,101.6 538.6,104.2 542.1,106.4 552.8,107.8 556.3,109.9 561.7,106 572.3,104.6 579.4,106.4 583.9,108.7 590.1,106.9 606.1,103.9 615,101.6 632.8,98.9 650.6,95.3 668.3,91.8 686.1,88.2 703.9,85 712.8,83.8 721.7,84.3 727,86.4 732.3,84.7 741.2,86.1 748.3,89.1 751.9,93.6 753.7,96.2 758.1,97.5 755.4,98.5 750.1,98.9 743,99.8 735.9,102.4 730.6,106 727,110.4 723.4,109.6 719.9,106 717.2,105.1 712.8,107.8 703.9,112.2 696.8,116.7 689.7,122.9 684.3,129.1 681.7,130 679.9,125.6 677.2,120.2 671.9,114.9 669.2,108.7 657.7,108.7 632.8,111.3 615,115.8 586.6,121.1 563.8,122 563.8,290 517.6,290 517.2,583.3 510.1,585.1 503,586.9 497.7,590.4 490.6,595.8 485.2,601.1 483.4,602.9 481.7,604.7 479.9,607.3 474.6,606.4 467.4,602.9 456.8,602.5 446.1,603.8 435.4,604.7 428.3,602.9 421.2,599.3 408.8,598.4 401.7,597.6 400.8,592.2 398.1,586.9 399,585.1 398.1,578 392.8,574.4 389.2,568.2 382.1,565.6 375,565.6 373.4,573.6 371.7,577.1 369.9,584.2 364.6,586 357.4,589.6 353.9,591.3 346.8,584.2 339.7,577.1 332.6,570 323.7,562.9 321.9,559.3 318.3,554 314.8,550.4 311.2,543.3 305.9,538 302.1,529.1 300.3,520.2 297.7,513.1 295,504.2 295.9,498.9 293.2,491.8 287.9,486.4 287.9,477.6 286.1,468.7 283.4,459.8 282.6,452.7 281.7,436.7 282.6,427.8 280.8,418 277.2,412.7 271.9,404.7 268.3,394 264.8,383.3 265.7,378 266.6,365.6 265.7,358.4 265.7,349.6 264.8,340.7 263,337.1 264.8,331.8 268.3,330 268.3,321.1 265.7,310.4 262.1,303.3 255.9,296.2 248.8,287.3 242.6,280.2 242.6,276.7 239.9,271.3 236.3,264.2 231.9,258 227.4,252.7 223.9,246.4 220.3,241.1 215.9,235.8 215,230.4 213.2,223.3 209.7,218 206.1,209.1 202.6,202 197.2,193.1 191.9,182.4 186.6,171.8 182.1,162.9 177.7,154.9 173.2,148.7 167.9,143.3 161.7,138 156.3,130.9 152.8,123.8 149.2,114.9 145.7,109.6 143.9,98.9 142.5,84.7" fill="none" stroke="#000" stroke-width="2.2" stroke-linejoin="round" shape-rendering="crispEdges"/>
</g><!--MAPEND-->
<!-- left text -->
<text class="t" x="20" y="673" font-size="18" font-weight="bold" textLength="267.5" lengthAdjust="spacingAndGlyphs">Drought Intensity of Grassland</text>
<text class="t" x="20" y="702.5" font-size="18" textLength="406" lengthAdjust="spacingAndGlyphs">From start of Season 1 to dekad 2 of January 2026</text>
<text class="t" x="20" y="733" font-size="18" textLength="313" lengthAdjust="spacingAndGlyphs">Mean VHI averaged per GAUL 2 region</text>
<text class="t" x="20" y="793" font-size="18" textLength="133" lengthAdjust="spacingAndGlyphs">METOP-AVHRR</text>
<text class="t" x="20" y="823" font-size="18" textLength="231" lengthAdjust="spacingAndGlyphs">WGS84, Geographic Lat/Lon</text>
<!-- legend -->
<text x="470" y="665" font-family="DejaVu Sans Condensed, DejaVu Sans, sans-serif" font-weight="bold" font-size="13.5" textLength="165" lengthAdjust="spacingAndGlyphs">Mean VHI [%] (Drought)</text>
<rect x="470" y="666" width="165.5" height="1.2" fill="#000"/>
<rect x="470" y="671" width="28" height="14" fill="#c00000"/>
<rect x="470" y="688" width="28" height="14" fill="#cd6666"/>
<rect x="470" y="705" width="28" height="14" fill="#ffebc8"/>
<rect x="470" y="722" width="28" height="14" fill="#e1ecd8"/>
<rect x="470" y="739" width="28" height="14" fill="#a8d08e"/>
<rect x="470" y="767" width="28" height="14" fill="#6464ff"/>
<rect x="470" y="784" width="28" height="14" fill="#000"/>
<rect x="470" y="801" width="28" height="14" fill="#646464"/>
<rect x="470" y="818" width="28" height="14" fill="#c8c8c8"/>
<text class="lg" x="509.5" y="682.4">&lt;25</text><text class="lg" x="539" y="682.4">(Extreme)</text>
<text class="lg" x="509.5" y="699.4">25-35 (Severe)</text>
<text class="lg" x="509.5" y="716.4" textLength="82.5" lengthAdjust="spacingAndGlyphs">35-38 (Moderate)</text>
<text class="lg" x="509.5" y="733.4">38-42 (Mild)</text>
<text class="lg" x="509.5" y="750.4">&gt;42</text><text class="lg" x="539" y="750.4">(None)</text>
<text class="lg" x="509.5" y="778.2">off season</text>
<text class="lg" x="509.5" y="795">no data</text>
<text class="lg" x="509.5" y="811.8" textLength="56.5" lengthAdjust="spacingAndGlyphs">no seasons</text>
<text class="lg" x="509.5" y="828.8">no grassland</text>
<!-- FAO logo -->
<g id="fao">
<defs><path id="fapath" d="M 678.2 759.2 A 23.3 23.3 0 0 0 724.8 759.2"/></defs>
<circle cx="701.5" cy="759.2" r="26.6" fill="none" stroke="#111" stroke-width="2.7"/>
<text x="679.6" y="760.7" font-family="Liberation Sans, sans-serif" font-weight="bold" font-size="14.4" fill="#111" stroke="#111" stroke-width="0.35" transform="translate(679.6 0) scale(0.86 1) translate(-679.6 0)">F</text>
<text x="696.3" y="748.2" font-family="Liberation Sans, sans-serif" font-weight="bold" font-size="14.2" fill="#111" transform="translate(696.3 0) scale(0.88 1) translate(-696.3 0)">A</text>
<text x="713.8" y="760.7" font-family="Liberation Sans, sans-serif" font-weight="bold" font-size="14.6" fill="#111" stroke="#111" stroke-width="0.35">O</text>
<polyline points="688,738.3 700.8,766.6 713.9,738.3" fill="none" stroke="#111" stroke-width="4.9" stroke-miterlimit="10"/>
<polyline points="686.6,738.4 700.8,769.2 715.3,738.4" fill="none" stroke="#fff" stroke-width="1.05" stroke-miterlimit="10"/>
<polyline points="689.4,738.1 700.8,764 712.5,738.1" fill="none" stroke="#fff" stroke-width="1.05" stroke-miterlimit="10"/>
<polygon points="696.6,756.2 705,756.2 700.8,762.5" fill="#111"/>
<ellipse cx="700.8" cy="770.2" rx="6.7" ry="4.8" fill="#111"/>
<polyline points="695.6,764.5 700.8,773.3 706,764.5" fill="none" stroke="#fff" stroke-width="0.8"/>
<path d="M700.8 748.3 C 699.6 750.5 699 751.8 699 753 C 699 754.3 699.8 754.9 700.8 754.9 C 701.8 754.9 702.6 754.3 702.6 753 C 702.6 751.8 702 750.5 700.8 748.3 Z" fill="#111"/>
<line x1="700.8" y1="774" x2="700.8" y2="786" stroke="#111" stroke-width="1.6"/>
<text font-family="Liberation Sans, sans-serif" font-weight="bold" font-size="6.2" fill="#111" letter-spacing="2.2"><textPath href="#fapath" startOffset="9.2">FIAT</textPath></text>
<text font-family="Liberation Sans, sans-serif" font-weight="bold" font-size="6.2" fill="#111" letter-spacing="1.6"><textPath href="#fapath" startOffset="41.6">PANIS</textPath></text>
</g>
<text class="t" x="739" y="748" font-size="14" font-weight="bold" textLength="138.5" lengthAdjust="spacingAndGlyphs">Food and Agriculture</text>
<text class="t" x="739" y="765.8" font-size="14" font-weight="bold" textLength="128.5" lengthAdjust="spacingAndGlyphs">Organization of the</text>
<text class="t" x="739" y="783.3" font-size="14" font-weight="bold" textLength="98.5" lengthAdjust="spacingAndGlyphs">United Nations</text>
<rect x="672.7" y="801" width="215" height="2" fill="#222"/>
<text class="t" x="672.5" y="827" font-size="14.3" fill="#2b2b2b" textLength="186" lengthAdjust="spacingAndGlyphs" style="fill:#2b2b2b">Global Information and Early</text>
<text class="t" x="672.5" y="845.6" font-size="14.3" textLength="162.5" lengthAdjust="spacingAndGlyphs" style="fill:#2b2b2b">Warning System – GIEWS</text>
<!-- disclaimer -->
<text class="t" x="15.5" y="920.2" font-size="10.8" textLength="841.5" lengthAdjust="spacingAndGlyphs">Disclaimer: The boundaries and names shown and the designations used on this map do not imply the expression of any opinion whatsoever on the part of FAO</text>
<text class="t" x="15.5" y="933.5" font-size="10.8" textLength="733.5" lengthAdjust="spacingAndGlyphs">concerning the legal status of any country, territory, area or of its authorities, or concerning the delimitation of its frontiers and boundaries.</text>
</svg>
</body></html>
